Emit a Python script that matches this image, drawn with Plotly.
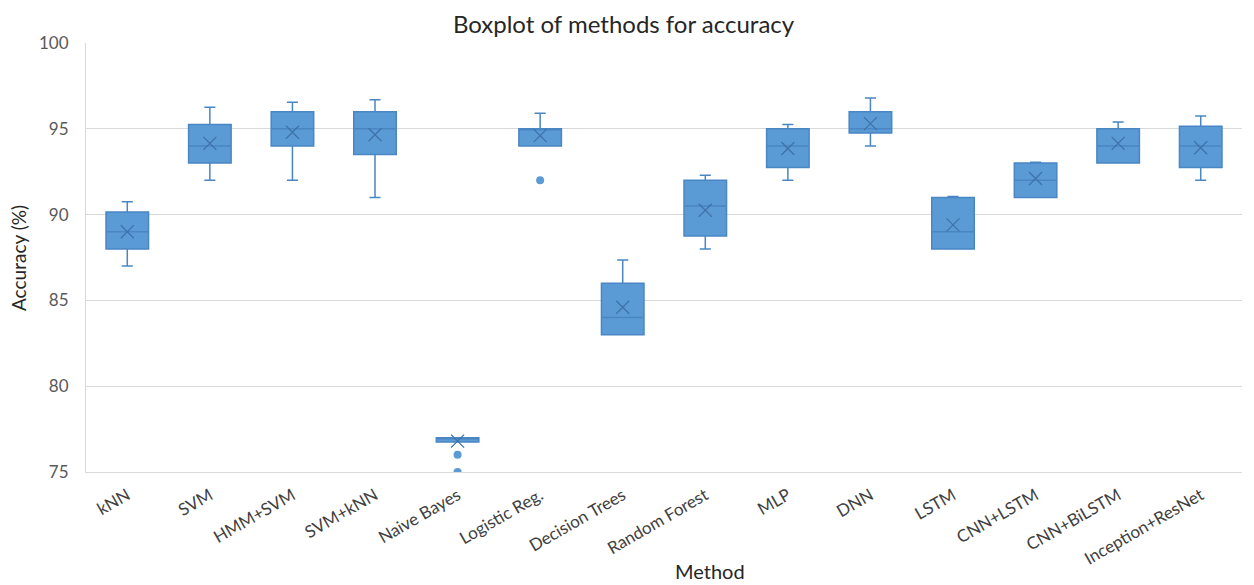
import plotly.graph_objects as go

categories = ["kNN", "SVM", "HMM+SVM", "SVM+kNN", "Naive Bayes", "Logistic Reg.",
              "Decision Trees", "Random Forest", "MLP", "DNN", "LSTM", "CNN+LSTM",
              "CNN+BiLSTM", "Inception+ResNet"]
lower_whisker = [87.0, 92.0, 92.0, 91.0, 76.75, 94.0, 83.0, 88.0, 92.0, 94.0, 88.0, 91.0, 93.0, 92.0]
q1 = [88.0, 93.0, 94.0, 93.5, 76.75, 94.0, 83.0, 88.75, 92.75, 94.75, 88.0, 91.0, 93.0, 92.75]
median = [89.0, 94.0, 95.0, 95.0, 77.0, 95.0, 84.0, 90.5, 94.0, 95.0, 89.0, 92.0, 94.0, 94.0]
q3 = [90.15, 95.25, 96.0, 96.0, 77.0, 95.0, 86.0, 92.0, 95.0, 96.0, 91.0, 93.0, 95.0, 95.15]
upper_whisker = [90.75, 96.25, 96.55, 96.7, 77.0, 95.9, 87.35, 92.3, 95.25, 96.8, 91.05, 93.05, 95.4, 95.75]
means = [89.0, 94.15, 94.8, 94.65, 76.8, 94.6, 84.6, 90.25, 93.85, 95.3, 89.4, 92.1, 94.15, 93.9]
outlier_methods = ["Naive Bayes", "Naive Bayes", "Logistic Reg."]
outlier_values = [76.0, 75.0, 92.0]

FILL = "#5B9BD5"
LINE = "#4A86C4"
FONT = "Lato"

fig = go.Figure()
fig.add_trace(go.Box(
    x=categories, q1=q1, median=median, q3=q3,
    lowerfence=lower_whisker, upperfence=upper_whisker,
    fillcolor=FILL, line=dict(color=LINE, width=1.5),
    whiskerwidth=0.26, boxpoints=False, showlegend=False, hoverinfo="skip",
))
fig.add_trace(go.Scatter(
    x=categories, y=means, mode="markers", showlegend=False,
    marker=dict(symbol="x-thin", size=13, line=dict(color="#3F72AA", width=1.3)),
))
fig.add_trace(go.Scatter(
    x=outlier_methods, y=outlier_values, mode="markers", showlegend=False,
    marker=dict(symbol="circle", size=8, color=FILL),
))

# the page adds an 8px body margin, so the figure is sized 8px smaller
fig.update_layout(
    width=1246, height=577,
    margin=dict(l=78, r=12, t=35, b=113, autoexpand=False),
    paper_bgcolor="white", plot_bgcolor="white",
    boxgap=0.485, boxgroupgap=0,
    font=dict(family=FONT),
    title=dict(text="Boxplot of methods for accuracy", xref="container", x=0.494,
               xanchor="center", yref="container", y=0.972, yanchor="middle",
               font=dict(family=FONT, size=24, color="#262626")),
    xaxis=dict(type="category", categoryorder="array", categoryarray=categories,
               range=[-0.5, len(categories) - 0.5],
               showgrid=False, showline=True, linecolor="#D9D9D9", linewidth=1,
               tickangle=-30, ticks="", ticklabelstandoff=6, automargin=False,
               tickfont=dict(family=FONT, size=17, color="#404040")),
    yaxis=dict(range=[75, 100], tickvals=[75, 80, 85, 90, 95, 100],
               showgrid=True, gridcolor="#D9D9D9", gridwidth=1,
               showline=True, linecolor="#D9D9D9", linewidth=1, automargin=False,
               zeroline=False, ticks="", ticklabelstandoff=13,
               tickfont=dict(family=FONT, size=17, color="#595959")),
    annotations=[
        dict(text="Method", xref="paper", yref="paper", x=0.5395, y=-0.2305,
             xanchor="center", yanchor="middle", showarrow=False,
             font=dict(family=FONT, size=20, color="#262626")),
        dict(text="Accuracy (%)", xref="paper", yref="paper", x=-0.0584, y=0.5,
             xanchor="center", yanchor="middle", textangle=-90, showarrow=False,
             font=dict(family=FONT, size=19, color="#262626")),
    ],
)

fig.write_html("out.html")
